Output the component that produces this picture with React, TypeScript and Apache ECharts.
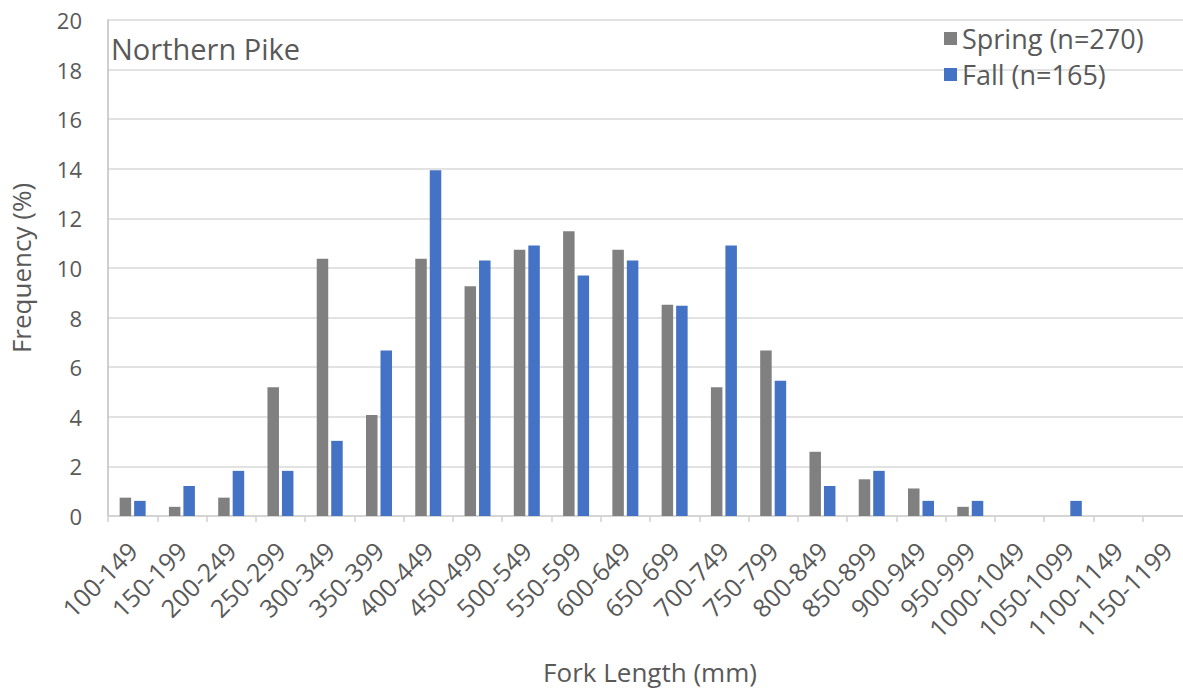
import React, { useEffect, useRef } from "react";
import * as echarts from "echarts";

// Fork length classes (mm)
const lengthClasses = [
  "100-149", "150-199", "200-249", "250-299", "300-349", "350-399",
  "400-449", "450-499", "500-549", "550-599", "600-649", "650-699",
  "700-749", "750-799", "800-849", "850-899", "900-949", "950-999",
  "1000-1049", "1050-1099", "1100-1149", "1150-1199",
];

// Percent frequency per length class
const springPct = [
  0.74, 0.37, 0.74, 5.19, 10.37, 4.07,
  10.37, 9.26, 10.74, 11.48, 10.74, 8.52,
  5.19, 6.67, 2.59, 1.48, 1.11, 0.37,
  0, 0, 0, 0,
];
const fallPct = [
  0.61, 1.21, 1.82, 1.82, 3.03, 6.67,
  13.94, 10.3, 10.91, 9.7, 10.3, 8.48,
  10.91, 5.45, 1.21, 1.82, 0.61, 0.61,
  0, 0.61, 0, 0,
];

const seriesNames = ["Spring (n=270)", "Fall (n=165)"];
const yTicks = { min: 0, max: 20, interval: 2 };

const FONT = "'Open Sans', 'Noto Sans', sans-serif";
const TEXT = "#595959";

export default function App() {
  const ref = useRef<HTMLDivElement>(null);

  useEffect(() => {
    if (!ref.current) return;
    const chart = echarts.init(ref.current, null, { renderer: "svg" });
    chart.setOption({
      animation: false,
      backgroundColor: "#ffffff",
      textStyle: { fontFamily: FONT, color: TEXT },
      grid: { left: 98.7, top: 20, right: 0, bottom: 171, containLabel: false },
      legend: {
        orient: "vertical",
        left: 939,
        top: 20,
        itemWidth: 13,
        itemHeight: 13,
        itemGap: 9,
        icon: "rect",
        textStyle: { fontFamily: FONT, color: TEXT, fontSize: 27 },
        data: seriesNames,
      },
      graphic: [
        {
          type: "text",
          left: 111,
          top: 34,
          style: { text: "Northern Pike", fontFamily: FONT, fontSize: 29, fill: TEXT },
        },
      ],
      xAxis: {
        type: "category",
        data: lengthClasses,
        name: "Fork Length (mm)",
        nameLocation: "middle",
        nameGap: 143,
        nameTextStyle: { fontFamily: FONT, fontSize: 26, color: TEXT },
        axisLine: { show: true, lineStyle: { color: "#d0d0d0", width: 1.5 } },
        axisTick: { show: true, interval: 0, length: 6, lineStyle: { color: "#d0d0d0", width: 1.5 } },
        axisLabel: {
          interval: 0,
          rotate: 45,
          margin: 30,
          fontFamily: FONT,
          fontSize: 25,
          color: TEXT,
        },
      },
      yAxis: {
        type: "value",
        min: yTicks.min,
        max: yTicks.max,
        interval: yTicks.interval,
        name: "Frequency (%)",
        nameLocation: "middle",
        nameGap: 74,
        nameTextStyle: { fontFamily: FONT, fontSize: 26, color: TEXT },
        axisLine: { show: true, lineStyle: { color: "#bfbfbf", width: 1.5 } },
        axisTick: { show: false },
        axisLabel: { margin: 26, fontFamily: FONT, fontSize: 22, color: TEXT },
        splitLine: { show: true, lineStyle: { color: "#d9d9d9", width: 1.5 } },
      },
      series: [
        {
          name: seriesNames[0],
          type: "bar",
          data: springPct,
          barWidth: 11.5,
          barGap: "26%",
          itemStyle: { color: "#808080" },
        },
        {
          name: seriesNames[1],
          type: "bar",
          data: fallPct,
          barWidth: 11.5,
          barGap: "26%",
          itemStyle: { color: "#4472c4" },
        },
      ],
    });
    return () => chart.dispose();
  }, []);

  return (
    <div
      style={{
        position: "absolute",
        left: 0,
        top: 0,
        width: 1183,
        height: 690,
        overflow: "hidden",
      }}
    >
      <div ref={ref} style={{ width: 1192, height: 690 }} />
    </div>
  );
}
